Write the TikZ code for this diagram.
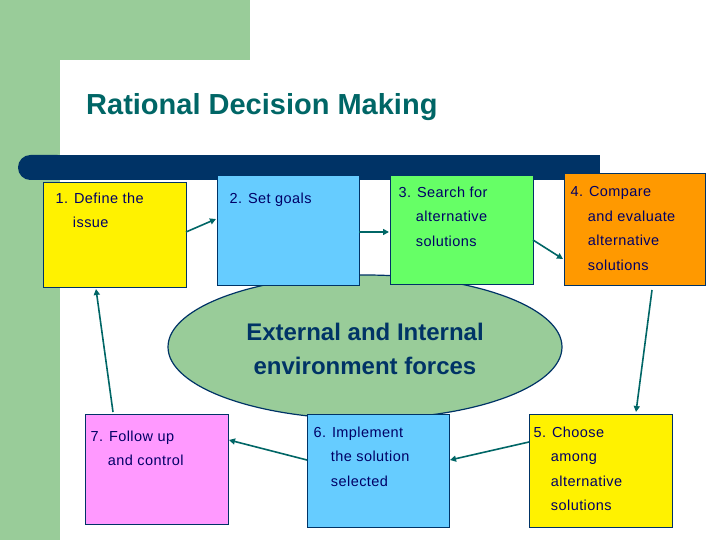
\documentclass[tikz,border=0pt]{standalone}
\usepackage{fontspec}
\setmainfont{Liberation Sans}
\usetikzlibrary{shapes.geometric,arrows.meta}
\definecolor{bgreen}{RGB}{153,204,153}
\definecolor{navy}{RGB}{0,51,102}
\definecolor{teal2}{RGB}{0,102,102}
\definecolor{txt}{RGB}{0,0,102}
\begin{document}
\begin{tikzpicture}[x=1pt,y=-1pt,
  box/.style={draw=navy,line width=1.2pt,anchor=north west,inner sep=0pt},
  lbl/.style={anchor=north west,align=left,text=txt,font=\addfontfeatures{LetterSpace=3}\fontsize{14.5}{24.5}\selectfont},
  conn/.style={teal2,line width=1.6pt,-{Triangle[length=6pt,width=6pt]}}]
\useasboundingbox (0,0) rectangle (720,540);
\fill[white] (0,0) rectangle (720,540);
\fill[bgreen] (0,0) rectangle (250,60);
\fill[bgreen] (0,0) rectangle (60,540);
\fill[white] (60,540) -- (60,80) arc[start angle=180,end angle=90,radius=20] -- (250,60) -- (250,540) -- cycle;
\node[anchor=west,text=teal2,font=\bfseries\fontsize{29}{34}\selectfont,inner sep=0pt] (title) at (86,107) {Rational Decision Making};
\fill[navy] (40,155) rectangle (600,180);
\fill[navy,rounded corners=12.4pt] (18,155) rectangle (70,180);
\node[ellipse,draw=navy,line width=1.2pt,fill=bgreen,minimum width=394pt,minimum height=144pt] (env) at (365,347) {};
\node[text=navy,font=\bfseries\fontsize{24}{34}\selectfont,align=center] (envt) at (365,349) {External and Internal\\environment forces};
\node[box,fill=yellow,minimum width=143pt,minimum height=105pt] (b1) at (43,182) {};
\node[box,fill={rgb,255:red,102;green,204;blue,255},minimum width=142pt,minimum height=110pt] (b2) at (217,175) {};
\node[box,fill={rgb,255:red,102;green,255;blue,102},minimum width=143pt,minimum height=109pt] (b3) at (390,175) {};
\node[box,fill={rgb,255:red,255;green,153;blue,0},minimum width=141pt,minimum height=112pt] (b4) at (564,173) {};
\node[box,fill={rgb,255:red,255;green,153;blue,255},minimum width=143pt,minimum height=110pt] (b7) at (85,414) {};
\node[box,fill={rgb,255:red,102;green,204;blue,255},minimum width=142pt,minimum height=113pt] (b6) at (307,414) {};
\node[box,fill=yellow,minimum width=143pt,minimum height=113pt] (b5) at (529,414) {};
\node[lbl] (t1) at (52,189) {1. Define the\\\hspace{1.2em}issue};
\node[lbl] (t2) at (226,189) {2. Set goals};
\node[lbl] (t3) at (395,183) {3. Search for\\\hspace{1.2em}alternative\\\hspace{1.2em}solutions};
\node[lbl] (t4) at (567,183) {4. Compare\\\hspace{1.2em}and evaluate\\\hspace{1.2em}alternative\\\hspace{1.2em}solutions};
\node[lbl] (t7) at (87,427) {7. Follow up\\\hspace{1.2em}and control};
\node[lbl] (t6) at (310,423) {6. Implement\\\hspace{1.2em}the solution\\\hspace{1.2em}selected};
\node[lbl] (t5) at (530,423) {5. Choose\\\hspace{1.2em}among\\\hspace{1.2em}alternative\\\hspace{1.2em}solutions};
\coordinate (a1) at (186,232); \coordinate (a2) at (216,219);
\coordinate (c1) at (359,232); \coordinate (c2) at (389,232);
\coordinate (d1) at (533,240); \coordinate (d2) at (563,259);
\coordinate (e1) at (652,290); \coordinate (e2) at (636,412);
\coordinate (f1) at (529,442); \coordinate (f2) at (450,460);
\coordinate (g1) at (307,460); \coordinate (g2) at (229,440);
\coordinate (h1) at (113,412); \coordinate (h2) at (96,289);
\draw[conn] (a1) -- (a2);
\draw[conn] (c1) -- (c2);
\draw[conn] (d1) -- (d2);
\draw[conn] (e1) -- (e2);
\draw[conn] (f1) -- (f2);
\draw[conn] (g1) -- (g2);
\draw[conn] (h1) -- (h2);
\end{tikzpicture}
\end{document}
